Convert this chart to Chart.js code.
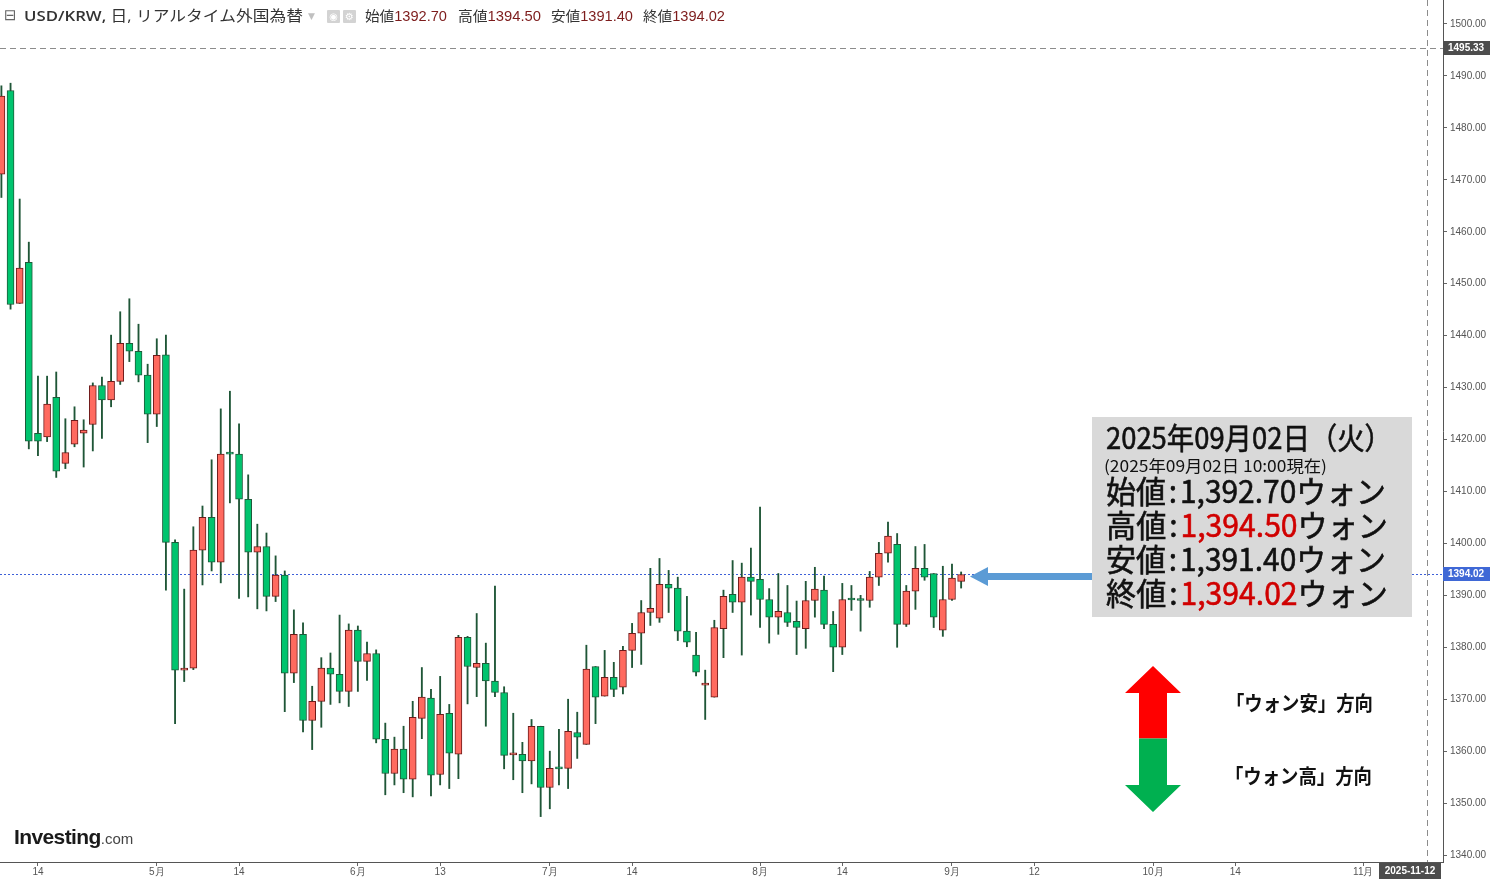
<!DOCTYPE html>
<html><head><meta charset="utf-8">
<script src="https://cdn.jsdelivr.net/npm/chart.js@4.4.1/dist/chart.umd.min.js"></script>
<style>
html,body{margin:0;padding:0;background:#fff;}
#wrap{position:relative;width:1490px;height:879px;overflow:hidden;background:#fff;}
canvas{position:absolute;left:0;top:0;}
.t{position:absolute;white-space:nowrap;line-height:1;transform-origin:0 50%;}
.cjk{font-family:"Noto Sans CJK JP","Noto Sans",sans-serif;}
.big{color:#111;-webkit-text-stroke:0.6px currentColor;}
.hd{font-family:"Open Sans","Noto Sans CJK JP",sans-serif;color:#333;font-size:15px;}
.num{font-family:"Liberation Sans",Arial,sans-serif;color:#7d1c1c;}
#box{position:absolute;left:1092px;top:417px;width:320px;height:200px;background:#d9d9d9;}
.red{color:#d00000;}
.ic{position:absolute;top:10px;width:13px;height:13px;background:#d3d3d3;border-radius:1px;color:#fff;font:10px "DejaVu Sans";text-align:center;line-height:13px;}
</style></head>
<body><div id="wrap">
<canvas id="c" width="1490" height="879"></canvas>

<div class="t" style="left:4px;" data-cy="16" data-fs="15"><span style="font-family:'DejaVu Sans';color:#666;">⊟</span></div>
<div class="t hd" style="left:24px;" data-cy="16" data-fs="15" data-w="279"><span style="font-weight:600">USD/KRW,</span> 日, リアルタイム外国為替</div>
<div class="t" style="left:308px;color:#c0c0c0;font:9px 'DejaVu Sans';" data-cy="16" data-fs="9">▼</div>
<div class="ic" style="left:327px;">◉</div>
<div class="ic" style="left:343px;">⚙</div>
<div class="t hd" style="left:365px;font-size:14px;" data-cy="16" data-fs="14" data-w="82"><span class="cjk">始値</span><span class="num">1392.70</span></div>
<div class="t hd" style="left:458px;font-size:14px;" data-cy="16" data-fs="14" data-w="83"><span class="cjk">高値</span><span class="num">1394.50</span></div>
<div class="t hd" style="left:551px;font-size:14px;" data-cy="16" data-fs="14" data-w="82"><span class="cjk">安値</span><span class="num">1391.40</span></div>
<div class="t hd" style="left:643px;font-size:14px;" data-cy="16" data-fs="14" data-w="82"><span class="cjk">終値</span><span class="num">1394.02</span></div>

<div id="box"></div>
<div class="t cjk big" style="left:1106px;" data-cy="437.5" data-fs="30" data-w="286">2025年09月02日（火）</div>
<div class="t cjk" style="left:1104px;color:#111;" data-cy="466" data-fs="16" data-w="223">(2025年09月02日 10:00現在)</div>
<div class="t cjk big" style="left:1106px;" data-cy="491.5" data-fs="31" data-w="280">始値<span style="margin:0 3px">:</span>1,392.70ウォン</div>
<div class="t cjk big" style="left:1106px;" data-cy="525.5" data-fs="31" data-w="282">高値<span style="margin:0 3px">:</span><span class="red">1,394.50</span>ウォン</div>
<div class="t cjk big" style="left:1106px;" data-cy="559.5" data-fs="31" data-w="280">安値<span style="margin:0 3px">:</span>1,391.40ウォン</div>
<div class="t cjk big" style="left:1106px;" data-cy="593.5" data-fs="31" data-w="282">終値<span style="margin:0 3px">:</span><span class="red">1,394.02</span>ウォン</div>

<div class="t cjk" style="left:1226px;color:#111;font-weight:700;" data-cy="703.5" data-fs="20" data-w="147">「ウォン安」方向</div>
<div class="t cjk" style="left:1225px;color:#111;font-weight:700;" data-cy="777" data-fs="20" data-w="147">「ウォン高」方向</div>

<div class="t" style="left:14px;font-family:'Liberation Sans',Arial,sans-serif;" data-cy="838" data-fs="21"><span style="font-weight:700;color:#1a1a1a;letter-spacing:-0.6px;">Investing</span><span style="font-size:15px;color:#444;">.com</span></div>
</div>

<script>
// ---- data ----
const opens  = [1471.1,1487.2,1446.2,1454.1,1421.2,1420.5,1428.1,1415.4,1419.1,1421.2,1422.9,1430.4,1427.6,1431.2,1438.5,1437.0,1432.4,1424.9,1436.3,1400.2,1375.6,1376.0,1398.7,1405.0,1396.4,1417.3,1417.2,1408.5,1398.3,1399.4,1389.8,1393.9,1375.0,1382.5,1365.9,1369.6,1376.0,1374.8,1371.5,1383.3,1377.3,1378.8,1362.3,1355.7,1360.4,1354.6,1366.3,1370.2,1355.5,1367.3,1359.4,1381.9,1376.1,1376.9,1373.5,1371.3,1359.3,1359.4,1358.1,1364.8,1353.0,1356.7,1356.7,1363.6,1361.3,1376.3,1370.6,1374.2,1372.3,1379.4,1382.7,1386.7,1385.6,1392.1,1391.4,1383.1,1378.5,1372.7,1370.4,1383.6,1390.2,1388.7,1393.5,1393.1,1389.2,1385.8,1386.7,1385.0,1383.6,1389.0,1391.0,1384.4,1380.0,1389.2,1389.2,1389.0,1393.5,1398.1,1399.8,1384.4,1390.8,1395.2,1394.2,1383.3,1389.2,1392.70];
const highs  = [1488.1,1488.6,1466.3,1458.0,1432.2,1432.2,1433.0,1424.0,1426.3,1423.8,1430.9,1432.0,1440.1,1444.6,1447.1,1442.2,1434.5,1439.4,1440.1,1400.7,1391.2,1403.2,1407.2,1416.1,1425.9,1429.3,1423.0,1413.2,1403.7,1402.0,1397.6,1394.7,1387.2,1384.7,1372.5,1378.0,1378.9,1386.2,1384.5,1384.1,1381.0,1379.5,1365.4,1362.7,1364.8,1369.6,1376.1,1371.9,1374.4,1369.0,1382.3,1382.1,1386.5,1380.8,1391.8,1372.4,1367.3,1361.7,1366.1,1364.8,1360.0,1364.2,1370.0,1367.5,1380.4,1376.3,1379.4,1377.1,1380.2,1384.6,1389.0,1395.2,1397.1,1394.8,1393.5,1389.8,1382.9,1375.6,1385.2,1391.0,1396.7,1396.2,1399.1,1407.0,1391.3,1394.2,1391.9,1388.9,1392.7,1395.4,1393.7,1386.9,1392.3,1391.9,1390.0,1394.6,1400.2,1404.1,1401.9,1391.9,1399.4,1399.8,1394.2,1395.6,1396.0,1394.50];
const lows   = [1466.6,1445.1,1446.2,1418.2,1416.9,1419.6,1412.7,1414.4,1418.6,1414.7,1417.8,1420.2,1426.3,1430.6,1435.0,1431.1,1419.4,1422.5,1391.0,1365.3,1373.4,1375.7,1392.0,1394.7,1392.4,1407.8,1389.4,1389.7,1387.4,1387.0,1388.8,1367.6,1373.2,1363.7,1360.3,1364.6,1369.0,1369.3,1368.6,1371.5,1373.6,1361.6,1351.6,1353.5,1352.0,1351.2,1362.4,1351.4,1353.5,1352.8,1354.7,1369.1,1370.5,1364.8,1370.5,1356.6,1354.5,1352.0,1353.7,1347.4,1348.9,1353.5,1352.8,1358.6,1361.3,1365.3,1370.6,1370.5,1371.0,1376.1,1376.7,1384.2,1384.8,1386.7,1381.3,1380.1,1374.5,1366.1,1370.4,1378.0,1386.7,1378.5,1386.2,1383.8,1380.8,1382.5,1384.0,1378.6,1379.8,1385.8,1383.6,1375.3,1378.6,1387.1,1383.1,1387.7,1391.9,1396.4,1380.0,1384.0,1387.3,1392.9,1383.8,1382.1,1389.0,1391.40];
const closes = [1486.1,1446.0,1453.0,1419.7,1419.7,1426.8,1413.9,1417.5,1423.7,1421.8,1430.4,1427.6,1431.2,1438.5,1437.0,1432.4,1424.9,1436.2,1400.2,1375.6,1376.0,1398.7,1405.0,1396.4,1417.2,1417.2,1408.5,1398.3,1399.4,1389.8,1393.9,1375.0,1382.5,1365.9,1369.6,1376.0,1374.8,1371.5,1383.3,1377.3,1378.8,1362.3,1355.7,1360.4,1354.6,1366.5,1370.4,1355.4,1367.1,1359.6,1381.9,1376.3,1376.9,1373.5,1371.3,1359.2,1359.4,1358.1,1364.8,1353.0,1356.7,1356.6,1363.8,1362.7,1375.8,1370.4,1374.2,1371.9,1379.4,1382.7,1386.7,1387.5,1392.1,1391.4,1383.1,1381.0,1375.2,1373.1,1383.8,1389.8,1388.7,1393.5,1392.7,1389.2,1385.8,1386.9,1384.8,1383.8,1389.0,1391.2,1384.4,1380.0,1389.2,1389.1,1389.0,1393.5,1398.1,1401.4,1384.4,1390.8,1395.2,1393.5,1385.8,1389.2,1393.3,1394.02];
// trading-day index of each x-axis tick and its label (2025-04-08 = day 0)
const xTickDays   = [4, 17, 26, 39, 48, 60, 69, 83, 92, 104, 113, 126, 135, 149];
const xTickLabels = ['14','5月','14','6月','13','7月','14','8月','14','9月','12','10月','14','11月'];
const yTicks = [1340,1350,1360,1370,1380,1390,1400,1410,1420,1430,1440,1450,1460,1470,1480,1490,1500];
const crossDay = 156, crossDayLabel = '2025-11-12', crossPrice = 1495.33;
const lastPrice = closes[closes.length - 1];

const days = opens.map((_, i) => i);
const isUp = days.map(i => closes[i] >= opens[i]);

const refLines = {
  id: 'refLines',
  beforeDatasetsDraw(chart) {
    const {ctx, chartArea: a, scales: {x, y}} = chart;
    ctx.save();
    ctx.lineWidth = 1;
    let py = Math.round(y.getPixelForValue(lastPrice)) + 0.5;
    ctx.strokeStyle = '#3d60d8'; ctx.setLineDash([2, 2]);
    ctx.beginPath(); ctx.moveTo(a.left, py); ctx.lineTo(a.right, py); ctx.stroke();
    ctx.strokeStyle = '#8c8c8c'; ctx.setLineDash([6, 4]);
    py = Math.round(y.getPixelForValue(crossPrice)) + 0.5;
    ctx.beginPath(); ctx.moveTo(a.left, py); ctx.lineTo(a.right, py); ctx.stroke();
    const px = Math.round(x.getPixelForValue(crossDay)) + 0.5;
    ctx.beginPath(); ctx.moveTo(px, a.top); ctx.lineTo(px, a.bottom); ctx.stroke();
    ctx.restore();
  },
  afterDraw(chart) {
    const {ctx, chartArea: a, scales: {x, y}} = chart;
    ctx.save();
    ctx.font = 'bold 10px "Liberation Sans", Arial, sans-serif';
    ctx.textBaseline = 'middle';
    const tag = (val, color) => {
      const py = Math.round(y.getPixelForValue(val));
      ctx.fillStyle = color; ctx.fillRect(a.right, py - 7, chart.width - a.right, 14);
      ctx.fillStyle = '#fff'; ctx.textAlign = 'left';
      ctx.fillText(val.toFixed(2), a.right + 5, py + 0.5);
    };
    tag(crossPrice, '#4d4d4d');
    tag(lastPrice, '#3f68d6');
    const bw = 62, bx = a.right - bw - 2;
    ctx.fillStyle = '#4d4d4d'; ctx.fillRect(bx, a.bottom + 1, bw, chart.height - a.bottom - 1);
    ctx.fillStyle = '#fff'; ctx.textAlign = 'center';
    ctx.fillText(crossDayLabel, bx + bw / 2, a.bottom + 9);

    ctx.fillStyle = '#5b9bd5';
    ctx.fillRect(987, 573, 105, 7);
    ctx.beginPath(); ctx.moveTo(970, 576.5); ctx.lineTo(988, 567); ctx.lineTo(988, 586); ctx.closePath(); ctx.fill();
    ctx.fillStyle = '#ff0000';
    ctx.beginPath();
    ctx.moveTo(1153, 666); ctx.lineTo(1181, 693); ctx.lineTo(1167, 693); ctx.lineTo(1167, 738.5);
    ctx.lineTo(1139, 738.5); ctx.lineTo(1139, 693); ctx.lineTo(1125, 693); ctx.closePath(); ctx.fill();
    ctx.fillStyle = '#00b050';
    ctx.beginPath();
    ctx.moveTo(1139, 738.5); ctx.lineTo(1167, 738.5); ctx.lineTo(1167, 785); ctx.lineTo(1181, 785);
    ctx.lineTo(1153, 812); ctx.lineTo(1125, 785); ctx.lineTo(1139, 785); ctx.closePath(); ctx.fill();
    ctx.restore();
  }
};

const axisFont = {family: '"Liberation Sans", Arial, sans-serif', size: 10};
new Chart(document.getElementById('c'), {
  type: 'bar',
  data: {
    datasets: [
      {
        label: 'body',
        data: days.map(i => ({x: i, y: [opens[i], closes[i]]})),
        backgroundColor: days.map(i => isUp[i] ? '#ff6a5f' : '#00c46e'),
        borderColor: days.map(i => isUp[i] ? '#6e1a1a' : '#1e5a3a'),
        borderWidth: 1, borderSkipped: false, barThickness: 7, minBarLength: 2,
        grouped: false, order: 0
      },
      {
        label: 'wick',
        data: days.map(i => ({x: i, y: [lows[i], highs[i]]})),
        backgroundColor: '#1f5637', borderWidth: 0, barThickness: 1.2,
        grouped: false, order: 1
      }
    ]
  },
  options: {
    responsive: false, animation: false, devicePixelRatio: 1,
    layout: {padding: 0},
    plugins: {legend: {display: false}, tooltip: {enabled: false}},
    scales: {
      x: {
        type: 'linear', offset: false, min: -0.153, max: 157.72,
        afterBuildTicks: s => { s.ticks = xTickDays.map(v => ({value: v})); },
        afterFit: s => { s.height = 17; s.paddingLeft = 0; s.paddingRight = 0; },
        ticks: {
          autoSkip: false, maxRotation: 0, minRotation: 0, padding: 0,
          font: axisFont, color: '#555',
          callback: v => xTickLabels[xTickDays.indexOf(v)]
        },
        grid: {offset: false, drawOnChartArea: false, drawTicks: true, tickLength: 4, color: '#666'},
        border: {display: true, color: '#555', width: 1}
      },
      y: {
        position: 'right', min: 1338.66, max: 1504.62,
        afterBuildTicks: s => { s.ticks = yTicks.map(v => ({value: v})); },
        afterFit: s => { s.width = 47; s.paddingTop = 0; s.paddingBottom = 0; },
        ticks: {font: axisFont, color: '#555', padding: 3, callback: v => Number(v).toFixed(2)},
        grid: {offset: false, drawOnChartArea: false, drawTicks: true, tickLength: 4, color: '#666'},
        border: {display: true, color: '#555', width: 1}
      }
    }
  },
  plugins: [refLines]
});

function placeTexts() {
  document.querySelectorAll('.t').forEach(el => {
    const fs = parseFloat(el.dataset.fs || 14);
    if (!el.style.fontSize) el.style.fontSize = fs + 'px';
    const cy = parseFloat(el.dataset.cy);
    el.style.top = (cy - el.offsetHeight * 0.55) + 'px';
    if (el.dataset.w) {
      el.style.transform = 'none';
      const w = el.getBoundingClientRect().width;
      el.style.transform = 'scaleX(' + (parseFloat(el.dataset.w) / w) + ')';
    }
  });
}
placeTexts();
if (document.fonts && document.fonts.ready) document.fonts.ready.then(placeTexts);
</script>
</body></html>
